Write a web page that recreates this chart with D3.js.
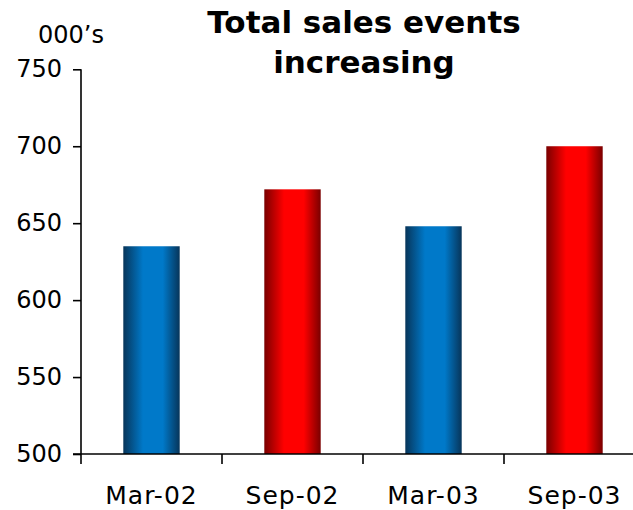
<!DOCTYPE html>
<html><head><meta charset="utf-8">
<script src="https://cdn.jsdelivr.net/npm/d3@7"></script>
<style>body{margin:0;background:#fff}svg{display:block}</style>
</head><body>
<svg id="chart" width="633" height="510"></svg>
<script>
const categories = ["Mar-02", "Sep-02", "Mar-03", "Sep-03"];
const values = [635, 672, 648, 700];
const barKinds = ["blue", "red", "blue", "red"];
const yTicks = [500, 550, 600, 650, 700, 750];
const titleLines = ["Total sales events", "increasing"];
const unitLabel = "000\u2019s";

(function () {
const svg = d3.select("#chart");
const font = "'DejaVu Sans', Verdana, sans-serif";
const mLeft = 81, mRight = 645, mTop = 69.3, mBottom = 454;

const x = d3.scaleBand().domain(categories).range([mLeft, mRight]).paddingInner(0.6).paddingOuter(0.3);
const y = d3.scaleLinear().domain([500, 750]).range([mBottom, mTop]);

const defs = svg.append("defs");
function grad(id, dark, bright) {
  const g = defs.append("linearGradient").attr("id", id).attr("x1", "0%").attr("x2", "100%").attr("y1", "0%").attr("y2", "0%");
  [[0, dark], [0.35, bright], [0.7, bright], [1, dark]].forEach(([o, c]) =>
    g.append("stop").attr("offset", o).attr("stop-color", c));
}
grad("g-blue", "#07355a", "#0079c9");
grad("g-red", "#7a0000", "#ff0000");

svg.selectAll("rect.bar").data(categories).enter().append("rect")
  .attr("class", "bar")
  .attr("x", d => x(d))
  .attr("width", x.bandwidth())
  .attr("y", (d, i) => y(values[i]))
  .attr("height", (d, i) => y(500) - y(values[i]))
  .attr("fill", (d, i) => `url(#g-${barKinds[i]})`);

// y axis
const yAxis = svg.append("g").attr("transform", `translate(${mLeft},0)`)
  .call(d3.axisLeft(y).tickValues(yTicks).tickSize(8).tickPadding(11).tickFormat(d3.format("d")));
yAxis.select(".domain").attr("stroke", "#000").attr("stroke-width", 1.6).attr("d", `M0,${mTop}V${mBottom}`);
yAxis.selectAll(".tick line").attr("stroke", "#000").attr("stroke-width", 1.6);
yAxis.selectAll(".tick text").attr("font-family", font).attr("font-size", 24).attr("fill", "#000");

// x axis
const step = x.step();
const xAxis = svg.append("g").attr("transform", `translate(0,${mBottom})`);
xAxis.append("line").attr("x1", mLeft - 8).attr("x2", 633).attr("y1", 0).attr("y2", 0)
  .attr("stroke", "#000").attr("stroke-width", 1.6);
const boundaries = categories.map(d => x(d) + x.bandwidth() / 2 - step / 2);
xAxis.selectAll("line.tk").data(boundaries).enter().append("line").attr("class", "tk")
  .attr("x1", d => d).attr("x2", d => d).attr("y1", 0).attr("y2", 10)
  .attr("stroke", "#000").attr("stroke-width", 1.6);
xAxis.selectAll("text").data(categories).enter().append("text")
  .attr("x", d => x(d) + x.bandwidth() / 2).attr("y", 50)
  .attr("text-anchor", "middle").attr("font-family", font).attr("font-size", 25)
  .attr("letter-spacing", 1).attr("fill", "#000").text(d => d);

// unit label
svg.append("text").attr("x", 38).attr("y", 43).attr("font-family", font).attr("font-size", 24)
  .attr("fill", "#000").text(unitLabel);

// title
svg.selectAll("text.title").data(titleLines).enter().append("text").attr("class", "title")
  .attr("x", 364).attr("y", (d, i) => 33 + i * 40)
  .attr("text-anchor", "middle").attr("font-family", font).attr("font-weight", "bold")
  .attr("font-size", 31).attr("fill", "#000").text(d => d);
})();
</script>
</body></html>
